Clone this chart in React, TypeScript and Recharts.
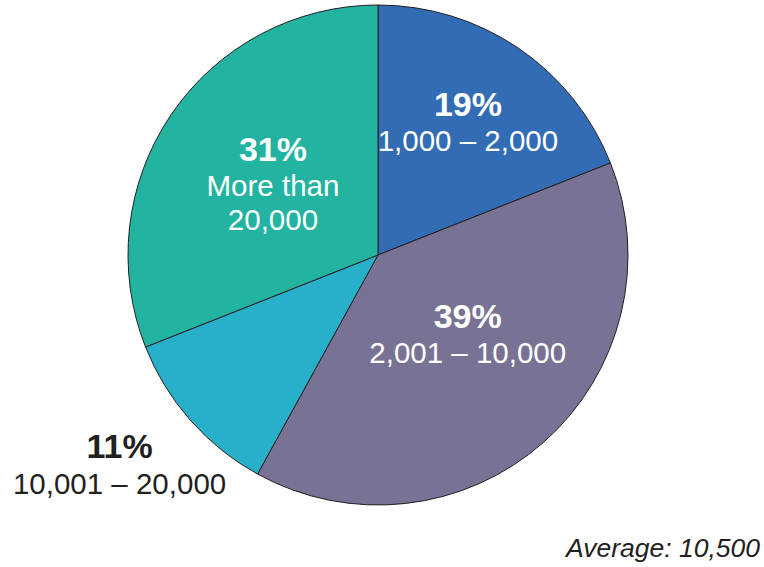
import React from 'react';
import { PieChart, Pie, Cell } from 'recharts';

const ranges = ['1,000 – 2,000', '2,001 – 10,000', '10,001 – 20,000', 'More than\n20,000'];
const shares = [19, 39, 11, 31];
const colors = ['#326cb4', '#787394', '#28afc9', '#22b3a1'];

const data = ranges.map((name, i) => ({ name, value: shares[i] }));

// label placement, tuned against the reference
const labelRadius = [160, 120, 333, 127];
const labelAngleShift = [0, 7, -2.3, 0];
const labelInside = [true, true, false, true];

const RAD = Math.PI / 180;
const FONT = '"Liberation Sans", Arial, Helvetica, sans-serif';

const renderLabel = (props: any) => {
  const { cx, cy, midAngle, index } = props;
  const a = (midAngle + labelAngleShift[index]) * RAD;
  const x = cx + labelRadius[index] * Math.cos(-a);
  const y = cy + labelRadius[index] * Math.sin(-a);
  const fill = labelInside[index] ? '#ffffff' : '#231f20';
  const lines = ranges[index].split('\n');
  const top = y - (lines.length === 1 ? 19 : 35);
  return (
    <g key={`lbl-${index}`}>
      <text x={x} y={top} fill={fill} textAnchor="middle" dominantBaseline="central"
        fontFamily={FONT} fontWeight="bold" fontSize={34}>
        {shares[index]}%
      </text>
      {lines.map((ln, j) => (
        <text key={j} x={x} y={top + 37 + j * 34} fill={fill} textAnchor="middle"
          dominantBaseline="central" fontFamily={FONT} fontSize={29.5}>
          {ln}
        </text>
      ))}
    </g>
  );
};

export default function App() {
  return (
    <div style={{ position: 'absolute', left: 0, top: 0, width: 764, height: 567, background: '#fff' }}>
      <PieChart width={764} height={567} margin={{ top: 0, right: 0, bottom: 0, left: 0 }}>
        <Pie
          data={data}
          dataKey="value"
          cx={378}
          cy={255}
          outerRadius={250}
          startAngle={90}
          endAngle={-270}
          stroke="#231f20"
          strokeWidth={1}
          label={renderLabel}
          labelLine={false}
          isAnimationActive={false}
        >
          {data.map((d, i) => (
            <Cell key={d.name} fill={colors[i]} />
          ))}
        </Pie>
        <text x={760} y={548} textAnchor="end" dominantBaseline="central" fill="#231f20"
          fontFamily={FONT} fontStyle="italic" fontSize={26.5}>
          Average: 10,500
        </text>
      </PieChart>
    </div>
  );
}
